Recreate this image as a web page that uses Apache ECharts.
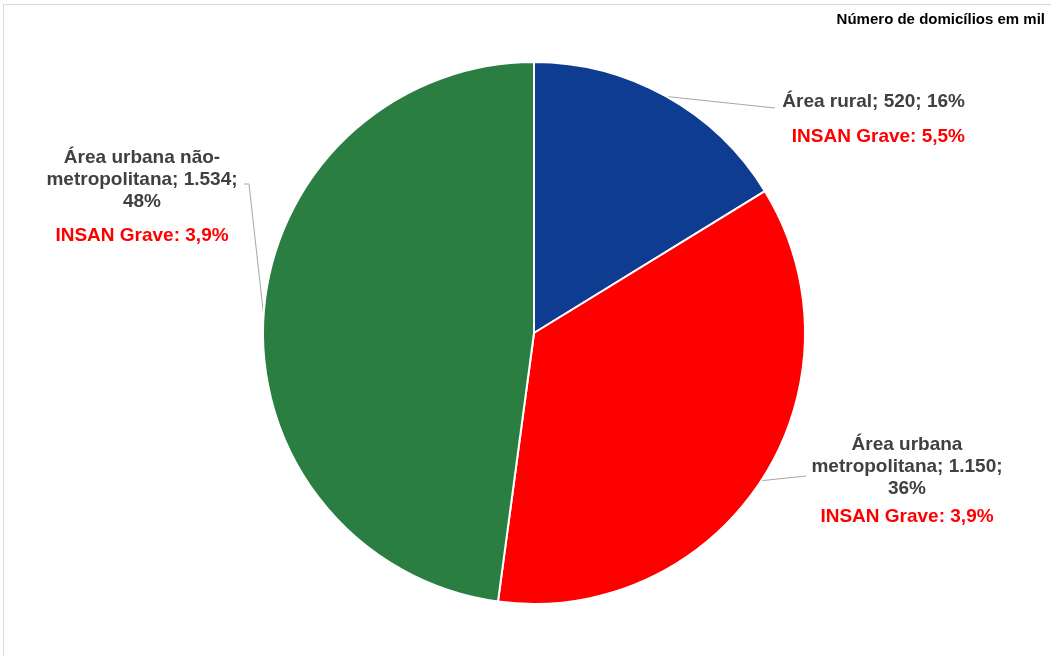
<!DOCTYPE html>
<html>
<head>
<meta charset="utf-8">
<script src="https://cdn.jsdelivr.net/npm/echarts@6/dist/echarts.min.js"></script>
<style>
  html, body { margin: 0; padding: 0; background: #fff; }
  #frame { position: absolute; left: 3px; top: 4px; width: 1060px; height: 660px;
           border-left: 1px solid #d9d9d9; border-top: 1px solid #d9d9d9; }
  #chart { position: absolute; left: 0; top: 0; width: 1051px; height: 656px; }
</style>
</head>
<body>
<div id="frame"></div>
<div id="chart"></div>
<script>
// dados (mil domicílios)
var categorias = ['Área rural', 'Área urbana metropolitana', 'Área urbana não-metropolitana'];
var nomesRotulo = [['Área rural; 520; 16%'], ['Área urbana', 'metropolitana; 1.150;', '36%'], ['Área urbana não-', 'metropolitana; 1.534;', '48%']];
var domicilios = [520, 1150, 1534];
var insanGrave = ['5,5%', '3,9%', '3,9%'];
var cores = ['#0d3c91', '#ff0000', '#2a7e41'];

// posição dos rótulos (topo do bloco) e fim da linha guia
var rotPos = [
  { x: 965, y: 91, align: 'right', end: [775, 108], gap: 35 },
  { x: 907, y: 434, align: 'center', end: [806, 476], gap: 28 },
  { x: 142, y: 147, align: 'center', end: [[249, 184], [244, 184]], gap: 34 }
];

var myChart = echarts.init(document.getElementById('chart'));

var dados = domicilios.map(function(v, i){
  var lh = 2 * rotPos[i].gap - 22;
  return {
    name: categorias[i],
    value: v,
    itemStyle: { color: cores[i] },
    label: {
      formatter: nomesRotulo[i].map(function(l){ return '{a|' + l + '}'; }).join('\n') + '\n{b|INSAN Grave: ' + insanGrave[i] + '}',
      rich: {
        a: { fontSize: 19, fontWeight: 'bold', color: '#404040', lineHeight: 22, fontFamily: 'Liberation Sans, Arial, sans-serif' },
        b: { fontSize: 19, fontWeight: 'bold', color: '#ff0000', lineHeight: lh, fontFamily: 'Liberation Sans, Arial, sans-serif' }
      }
    }
  };
});

var option = {
  animation: false,
  title: {
    text: 'Número de domicílios em mil',
    right: 1,
    top: 7,
    textStyle: { fontSize: 15, fontWeight: 'bold', color: '#000', fontFamily: 'Liberation Sans, Arial, sans-serif' }
  },
  series: [{
    type: 'pie',
    center: [534, 333],
    radius: [0, 271],
    startAngle: 90,
    clockwise: true,
    avoidLabelOverlap: false,
    itemStyle: { borderColor: '#fff', borderWidth: 2 },
    label: { show: true, position: 'outside' },
    labelLine: { show: true, lineStyle: { color: '#a6a6a6', width: 1 } },
    emphasis: { disabled: true },
    labelLayout: function(params){
      var p = rotPos[params.dataIndex];
      var start = params.labelLinePoints ? params.labelLinePoints[0] : [0, 0];
      var pts = [start];
      if (Array.isArray(p.end[0])) { pts = pts.concat(p.end); }
      else { pts.push(p.end); pts.push(p.end); }
      return {
        x: p.x,
        y: p.y,
        align: p.align,
        verticalAlign: 'top',
        labelLinePoints: pts
      };
    },
    data: dados
  }]
};
myChart.setOption(option);
</script>
</body>
</html>
